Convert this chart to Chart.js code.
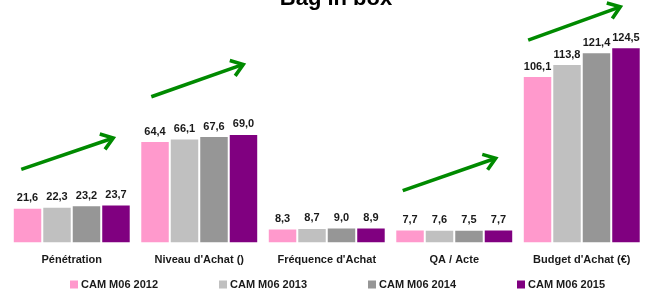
<!DOCTYPE html>
<html>
<head>
<meta charset="utf-8">
<script src="https://cdn.jsdelivr.net/npm/chart.js@4.4.1/dist/chart.umd.min.js"></script>
<style>
  html, body { margin: 0; padding: 0; background: #ffffff; }
  #wrap { position: relative; width: 650px; height: 291px; }
</style>
</head>
<body>
<div id="wrap"><canvas id="c"></canvas></div>
<script>
// ---- data ----
const categories = ["Pénétration", "Niveau d'Achat ()", "Fréquence d'Achat", "QA / Acte", "Budget d'Achat (€)"];
const seriesNames = ["CAM M06 2012", "CAM M06 2013", "CAM M06 2014", "CAM M06 2015"];
const values2012 = [21.6, 64.4, 8.3, 7.7, 106.1];
const values2013 = [22.3, 66.1, 8.7, 7.6, 113.8];
const values2014 = [23.2, 67.6, 9.0, 7.5, 121.4];
const values2015 = [23.7, 69.0, 8.9, 7.7, 124.5];
const titleText = "Bag in box";

// ---- styles ----
const colors = ["#FF99CC", "#C0C0C0", "#969696", "#800080"];
const FONT = "'Liberation Sans', Arial, Helvetica, sans-serif";

// decorative arrows (category index, offsets as fraction of category width, values on y scale)
const arrows = [
  { cat: 0, dx0: -0.396, v0: 46.9, dx1: 0.325, v1: 67.0 },
  { cat: 1, dx0: -0.376, v0: 93.5, dx1: 0.345, v1: 114.2 },
  { cat: 3, dx0: -0.404, v0: 33.3, dx1: 0.325, v1: 54.0 },
  { cat: 4, dx0: -0.420, v0: 129.8, dx1: 0.302, v1: 151.1 }
];

const allSeries = [values2012, values2013, values2014, values2015];

const decoPlugin = {
  id: 'deco',
  afterDatasetsDraw(chart) {
    const ctx = chart.ctx;
    const xs = chart.scales.x, ys = chart.scales.y;
    // value labels
    ctx.save();
    ctx.font = "bold 11px " + FONT;
    ctx.fillStyle = "#1a1a1a";
    ctx.textAlign = "center";
    ctx.textBaseline = "middle";
    chart.data.datasets.forEach((ds, di) => {
      const meta = chart.getDatasetMeta(di);
      meta.data.forEach((bar, i) => {
        const v = ds.data[i];
        ctx.fillText(v.toFixed(1).replace('.', ','), bar.x, bar.y - 10.5);
      });
    });
    ctx.restore();

    // arrows
    const catW = (xs.right - xs.left) / categories.length;
    ctx.save();
    ctx.strokeStyle = "#008A00";
    ctx.lineWidth = 3.6;
    ctx.lineCap = "butt";
    ctx.lineJoin = "miter";
    arrows.forEach(a => {
      const cx = xs.getPixelForValue(a.cat);
      const x0 = cx + a.dx0 * catW, y0 = ys.getPixelForValue(a.v0);
      const x1 = cx + a.dx1 * catW, y1 = ys.getPixelForValue(a.v1);
      const ang = Math.atan2(y1 - y0, x1 - x0);
      ctx.beginPath();
      ctx.moveTo(x0, y0);
      ctx.lineTo(x1 - 1.5 * Math.cos(ang), y1 - 1.5 * Math.sin(ang));
      ctx.stroke();
      const L = 14, spread = 0.62;
      ctx.beginPath();
      ctx.moveTo(x1 - L * Math.cos(ang - spread), y1 - L * Math.sin(ang - spread));
      ctx.lineTo(x1, y1);
      ctx.lineTo(x1 - L * Math.cos(ang + spread), y1 - L * Math.sin(ang + spread));
      ctx.stroke();
    });
    ctx.restore();
  },
  afterDraw(chart) {
    const ctx = chart.ctx;
    // title (partly cut off at the top)
    ctx.save();
    ctx.font = "bold 22px " + FONT;
    ctx.fillStyle = "#000000";
    ctx.textAlign = "center";
    ctx.textBaseline = "alphabetic";
    ctx.fillText(titleText, 336, 5);
    ctx.restore();

    // legend
    ctx.save();
    ctx.font = "bold 11px " + FONT;
    ctx.textAlign = "left";
    ctx.textBaseline = "middle";
    chart.data.datasets.forEach((ds, i) => {
      const bx = 70 + i * 149;
      ctx.fillStyle = ds.backgroundColor;
      ctx.fillRect(bx, 280.5, 8, 8);
      ctx.fillStyle = "#1a1a1a";
      ctx.fillText(ds.label, bx + 11, 284.5);
    });
    ctx.restore();
  }
};

new Chart(document.getElementById('c'), {
  type: 'bar',
  data: {
    labels: categories,
    datasets: allSeries.map((vals, i) => ({
      label: seriesNames[i],
      data: vals,
      backgroundColor: colors[i],
      borderWidth: 0,
      categoryPercentage: 0.925,
      barPercentage: 0.932
    }))
  },
  options: {
    responsive: true,
    maintainAspectRatio: false,
    animation: false,
    layout: { padding: { top: 24.2, left: 8, right: 4.5, bottom: 13.3 } },
    plugins: {
      legend: { display: false },
      title: { display: false },
      tooltip: { enabled: false }
    },
    scales: {
      x: {
        grid: { display: false, drawTicks: false },
        border: { display: false },
        ticks: {
          padding: 11,
          color: "#1a1a1a",
          font: { family: FONT, size: 11, weight: 'bold', lineHeight: 1.2 },
          maxRotation: 0,
          autoSkip: false
        }
      },
      y: {
        display: false,
        min: 0,
        max: 140
      }
    }
  },
  plugins: [decoPlugin]
});
</script>
</body>
</html>
